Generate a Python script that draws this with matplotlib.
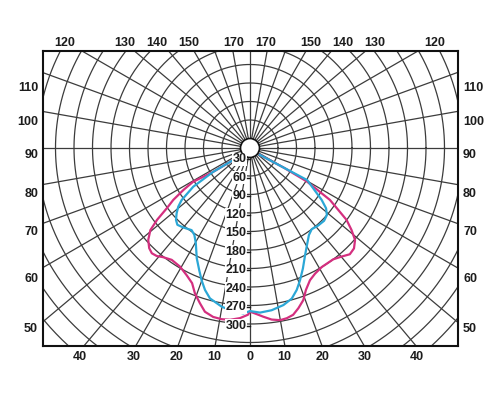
import numpy as np
import matplotlib.pyplot as plt
from matplotlib.patches import Circle

# values: angle from nadir in degrees (left side negative)
# and luminous intensity in cd
cyan_ang = [-53, -54.3, -57.1, -55.7, -52.7, -50.7, -48.3, -45.8, -43.4, -40.1, -35.4, -32.6,
            -29.7, -25.8, -22.6, -20.1, -17.6, -14.9, -10.1, -5.8, -2.3, 0,
            3.5, 7.6, 12, 15.5, 18.2, 20.7, 23.7, 27.2, 31, 34.1, 37.2, 41.3, 45.5, 48.9,
            51.6, 54.1, 60.7, 59.8, 55]
cyan_val = [33, 48, 86, 126, 154, 165, 174, 182, 186, 183, 178, 182,
            192, 213, 229, 243, 256, 267, 276, 281, 283, 279,
            282, 280, 275, 268, 257, 244, 228, 210, 195, 185, 180, 182, 183, 180,
            172, 158, 121, 78, 34]

pink_ang = [-53, -54.3, -57.1, -59.3, -57.8, -55.9, -54.1, -52.3, -50.5, -47.9, -45.2, -43,
            -40.8, -38.6, -35, -30.5, -26.5, -23.2, -20.7, -17.9, -15.4, -12.3, -9.4, -6.6,
            -3.4, -0.7, 0, 1.7, 4.5, 7.2, 9.9, 12.2, 14.5, 16.8, 19.3, 21.5, 24.4, 27.4,
            31.1, 36.8, 40.2, 43.2, 46, 48.8, 51.1, 53.3, 54.9, 57, 59.5, 59.8, 55]
pink_val = [33, 48, 86, 122, 142, 165, 181, 205, 224, 237, 245, 248,
            246, 241, 236, 238, 245, 253, 267, 279, 290, 295, 296, 295,
            291, 285, 280, 283, 289, 295, 298, 297, 294, 286, 276, 262, 250, 244,
            240, 240, 245, 251, 249, 241, 226, 210, 190, 169, 122, 78, 34]

ring_labels = ['30', '60', '90', '120', '150', '180', '210', '240', '270', '300']
side_labels = ['110', '100', '90', '80', '70', '60', '50']
top_labels = ['120', '130', '140', '150', '170']
bottom_labels = ['40', '30', '20', '10', '0', '10', '20', '30', '40']

# layout of the original picture, in pixels
CX, CY = 250, 148
S = 18.5 / 30          # pixels per cd
HOLE = 30              # the small circle in the middle is the 30 cd ring
R_HOLE = 9.5 / S


def rad(v):
    return np.asarray(v, float) - HOLE + R_HOLE


def xy(ang, val):
    th = np.radians(ang)
    r = rad(val)
    return r * np.sin(th), -r * np.cos(th)


def px(x, y):
    return (x - CX) / S, (CY - y) / S


fig = plt.figure(figsize=(5.01, 4.0), dpi=100)
ax = fig.add_axes([43 / 501, 54 / 400, 415 / 501, 295 / 400])
ax.set_xlim((43 - CX) / S, (458 - CX) / S)
ax.set_ylim((CY - 346) / S, (CY - 51) / S)
ax.set_xticks([])
ax.set_yticks([])
for sp in ax.spines.values():
    sp.set_linewidth(1.5)
    sp.set_color('#111111')

gcol = '#3c3c3c'
# rings
t = np.linspace(0, 2 * np.pi, 400)
for v in range(60, 510, 30):
    r = rad(v)
    ax.plot(r * np.cos(t), r * np.sin(t), color=gcol, lw=0.9, zorder=1)
# rays every 10 degrees
for a in range(0, 360, 10):
    th = np.radians(a)
    ax.plot([R_HOLE * np.sin(th), 700 * np.sin(th)], [R_HOLE * np.cos(th), 700 * np.cos(th)],
            color=gcol, lw=0.9, zorder=1)

x, y = xy(pink_ang, pink_val)
ax.plot(x, y, color='#d42f7f', lw=1.6, zorder=3, solid_joinstyle='round')
x, y = xy(cyan_ang, cyan_val)
ax.plot(x, y, color='#2ba7d6', lw=1.6, zorder=4, solid_joinstyle='round')

ax.add_patch(Circle((0, 0), R_HOLE, facecolor='white', edgecolor='#111111', lw=1.2, zorder=5))

font = dict(fontsize=9, fontweight='bold', family='Liberation Sans', color='#1c1c1c')

# intensity labels along the nadir line
for i, lab in enumerate(ring_labels):
    yy = 159.3 + 18.5 * i
    tx, ty = px(246.5, yy)
    ax.text(tx, ty, lab, ha='right', va='center', zorder=6,
            bbox=dict(facecolor='white', edgecolor='none', pad=0.3), **font)
    ax.plot([tx + 0.5, 0], [ty, ty], color='#1c1c1c', lw=1.0, zorder=6)

side_y = [87.7, 121.7, 155, 194, 231.7, 279.3, 329.3]
for lab, yy in zip(side_labels, side_y):
    ax.text(*px(38, yy), lab, ha='right', va='center', **font)
    ax.text(*px(463, yy), lab, ha='left', va='center', **font)

top_dx = [185, 125, 93, 61, 16]
for lab, d in zip(top_labels, top_dx):
    ax.text(*px(CX - d, 43), lab, ha='center', va='center', **font)
    ax.text(*px(CX + d, 43), lab, ha='center', va='center', **font)

bottom_x = [80, 133.5, 177, 214, 250, 284.5, 322.5, 365, 417]
for lab, xx in zip(bottom_labels, bottom_x):
    ax.text(*px(xx, 357.5), lab, ha='center', va='center', **font)

fig.savefig('out.png', dpi=100)
